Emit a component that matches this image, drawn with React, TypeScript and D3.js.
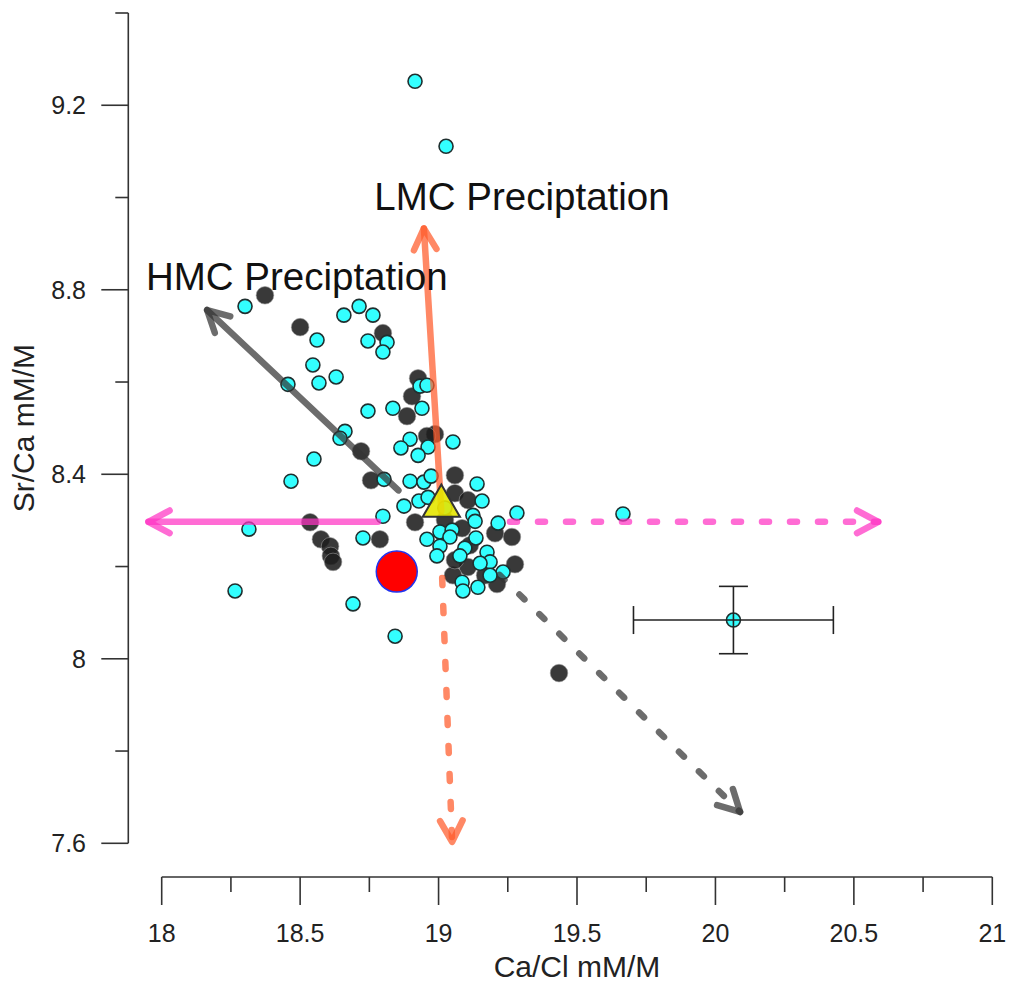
import React from "react";
import * as d3 from "d3";

// ---- Data ----
const cyanX = [18.915, 19.027, 18.301, 18.561, 18.658, 18.713, 18.763, 18.745, 18.814, 18.799, 18.546, 18.568, 18.63, 18.456, 18.933, 18.958, 18.745, 18.835, 18.94, 18.662, 18.644, 18.897, 18.864, 18.962, 18.926, 19.052, 18.55, 18.467, 18.803, 18.897, 18.947, 18.973, 19.139, 19.157, 18.875, 18.929, 18.962, 18.799, 18.727, 18.958, 19.005, 19.049, 19.041, 19.005, 18.994, 19.135, 19.124, 19.132, 19.215, 19.283, 19.175, 19.186, 19.095, 19.077, 19.15, 19.233, 19.186, 19.085, 19.088, 19.142, 18.691, 18.843, 18.315, 18.265, 19.666, 19.023];
const cyanY = [9.252, 9.111, 8.764, 8.691, 8.745, 8.764, 8.745, 8.689, 8.686, 8.665, 8.637, 8.598, 8.611, 8.595, 8.591, 8.593, 8.537, 8.543, 8.543, 8.493, 8.478, 8.476, 8.457, 8.459, 8.441, 8.47, 8.433, 8.385, 8.389, 8.385, 8.383, 8.396, 8.379, 8.342, 8.331, 8.342, 8.35, 8.309, 8.262, 8.259, 8.275, 8.279, 8.264, 8.244, 8.223, 8.262, 8.311, 8.298, 8.294, 8.316, 8.231, 8.21, 8.24, 8.223, 8.207, 8.188, 8.181, 8.166, 8.147, 8.155, 8.119, 8.049, 8.281, 8.147, 8.314, 8.327];

const blackX = [18.373, 18.5, 18.799, 18.926, 18.904, 18.886, 18.987, 18.958, 18.72, 18.756, 19.059, 19.059, 19.106, 18.536, 18.575, 18.608, 18.611, 18.619, 18.788, 18.915, 19.204, 19.265, 19.276, 19.211, 19.106, 19.052, 19.435, 19.023, 19.085, 19.113, 19.168, 19.059];
const blackY = [8.788, 8.719, 8.706, 8.608, 8.569, 8.526, 8.487, 8.483, 8.45, 8.387, 8.398, 8.359, 8.344, 8.296, 8.259, 8.244, 8.223, 8.21, 8.259, 8.296, 8.272, 8.264, 8.205, 8.162, 8.199, 8.181, 7.969, 8.301, 8.283, 8.246, 8.181, 8.214];

const errPoint = { x: 20.065, y: 8.084, xerr: 0.361, yerr: 0.073 };
const seawater = { x: 18.849, y: 8.189 }; // red circle
const startPoint = { x: 19.01, y: 8.331 }; // yellow triangle

const arrowNames = ["hmcSolid", "hmcDashed", "lmcSolid", "lmcDashed", "pinkSolid", "pinkDashed"];
const arrowX0 = [18.855, 19.22, 19.01, 19.013, 18.781, 19.258];
const arrowY0 = [8.365, 8.182, 8.32, 8.175, 8.297, 8.297];
const arrowX1 = [18.164, 20.089, 18.947, 19.049, 17.952, 20.588];
const arrowY1 = [8.756, 7.668, 8.933, 7.603, 8.297, 8.297];
const arrowKind = ["gray", "gray", "orange", "orange", "pink", "pink"];
const arrowDashed = [false, true, false, true, false, true];

const xMajor = [18, 18.5, 19, 19.5, 20, 20.5, 21];
const xMinor = [18.25, 18.75, 19.25, 19.75, 20.25, 20.75];
const yMajor = [7.6, 8, 8.4, 8.8, 9.2];
const yMinor = [7.8, 8.2, 8.6, 9.0, 9.4];

const labels = [
  { text: "LMC Preciptation", x: 18.768, y: 8.973 },
  { text: "HMC Preciptation", x: 17.943, y: 8.8 },
];

const colors: Record<string, string> = {
  gray: "#333333",
  orange: "#ff5a2a",
  pink: "#ff33c4",
};

const FONT = "'Liberation Sans', Arial, Helvetica, sans-serif";

export default function App() {
  const W = 1013;
  const H = 993;
  const x = d3.scaleLinear().domain([18, 21]).range([161.7, 992.3]);
  const y = d3.scaleLinear().domain([7.6, 9.4]).range([843.3, 13]);
  const axisY = 877;
  const axisX = 128.3;
  const axisColor = "#333";

  const arrowHead = (i: number) => {
    const px0 = x(arrowX0[i]);
    const py0 = y(arrowY0[i]);
    const px1 = x(arrowX1[i]);
    const py1 = y(arrowY1[i]);
    const ang = Math.atan2(py1 - py0, px1 - px0);
    const L = 24;
    const a = (28 * Math.PI) / 180;
    const p1 = [px1 - L * Math.cos(ang - a), py1 - L * Math.sin(ang - a)];
    const p2 = [px1 - L * Math.cos(ang + a), py1 - L * Math.sin(ang + a)];
    return `M${p1[0]},${p1[1]}L${px1},${py1}L${p2[0]},${p2[1]}`;
  };

  const tri = d3.symbol().type(d3.symbolTriangle).size(600)();

  return (
    <svg
      width={W}
      height={H}
      style={{ position: "absolute", left: 0, top: 0, background: "#fff" }}
      fontFamily={FONT}
    >
      {/* Y axis */}
      <line x1={axisX} x2={axisX} y1={y(9.4)} y2={y(7.6)} stroke={axisColor} strokeWidth={1.6} />
      {yMajor.map((v) => (
        <g key={"ym" + v}>
          <line x1={axisX - 27} x2={axisX} y1={y(v)} y2={y(v)} stroke={axisColor} strokeWidth={1.6} />
          <text x={86} y={y(v)} dy="0.35em" textAnchor="end" fontSize={25} fill="#222">
            {d3.format("~g")(v)}
          </text>
        </g>
      ))}
      {yMinor.map((v) => (
        <line key={"yn" + v} x1={axisX - 13} x2={axisX} y1={y(v)} y2={y(v)} stroke={axisColor} strokeWidth={1.6} />
      ))}
      <text
        transform={`translate(34,${(y(7.6) + y(9.4)) / 2}) rotate(-90)`}
        textAnchor="middle"
        fontSize={30}
        fill="#222"
      >
        Sr/Ca mM/M
      </text>

      {/* X axis */}
      <line x1={x(18)} x2={x(21)} y1={axisY} y2={axisY} stroke={axisColor} strokeWidth={1.6} />
      {xMajor.map((v) => (
        <g key={"xm" + v}>
          <line x1={x(v)} x2={x(v)} y1={axisY} y2={axisY + 28} stroke={axisColor} strokeWidth={1.6} />
          <text x={x(v)} y={942} textAnchor="middle" fontSize={25} fill="#222">
            {d3.format("~g")(v)}
          </text>
        </g>
      ))}
      {xMinor.map((v) => (
        <line key={"xn" + v} x1={x(v)} x2={x(v)} y1={axisY} y2={axisY + 15} stroke={axisColor} strokeWidth={1.6} />
      ))}
      <text x={x(19.5)} y={977} textAnchor="middle" fontSize={30} fill="#222">
        Ca/Cl mM/M
      </text>

      {/* Black points */}
      {blackX.map((v, i) => (
        <circle
          key={"b" + i}
          cx={x(v)}
          cy={y(blackY[i])}
          r={8.8}
          fill="#1e1e1e"
          fillOpacity={0.88}
          stroke="#9a9a9a"
          strokeOpacity={0.6}
          strokeWidth={1}
        />
      ))}

      {/* Cyan points */}
      {cyanX.map((v, i) => (
        <circle
          key={"c" + i}
          cx={x(v)}
          cy={y(cyanY[i])}
          r={7}
          fill="#33ffff"
          stroke="#1f2f2f"
          strokeWidth={1.6}
        />
      ))}

      {/* Error bar point */}
      <g stroke="#222" strokeWidth={1.6}>
        <circle cx={x(errPoint.x)} cy={y(errPoint.y)} r={7} fill="#33ffff" stroke="#1f2f2f" />
        <line x1={x(errPoint.x - errPoint.xerr)} x2={x(errPoint.x + errPoint.xerr)} y1={y(errPoint.y)} y2={y(errPoint.y)} />
        <line x1={x(errPoint.x - errPoint.xerr)} x2={x(errPoint.x - errPoint.xerr)} y1={y(errPoint.y) - 14} y2={y(errPoint.y) + 14} />
        <line x1={x(errPoint.x + errPoint.xerr)} x2={x(errPoint.x + errPoint.xerr)} y1={y(errPoint.y) - 14} y2={y(errPoint.y) + 14} />
        <line x1={x(errPoint.x)} x2={x(errPoint.x)} y1={y(errPoint.y + errPoint.yerr)} y2={y(errPoint.y - errPoint.yerr)} />
        <line x1={x(errPoint.x) - 14.5} x2={x(errPoint.x) + 14.5} y1={y(errPoint.y + errPoint.yerr)} y2={y(errPoint.y + errPoint.yerr)} />
        <line x1={x(errPoint.x) - 14.5} x2={x(errPoint.x) + 14.5} y1={y(errPoint.y - errPoint.yerr)} y2={y(errPoint.y - errPoint.yerr)} />
      </g>

      {/* Arrows */}
      {arrowNames.map((n, i) => (
        <g key={n} stroke={colors[arrowKind[i]]} strokeOpacity={0.72} strokeWidth={6.5} fill="none" strokeLinecap="round" strokeLinejoin="round">
          <line
            x1={x(arrowX0[i])}
            y1={y(arrowY0[i])}
            x2={x(arrowX1[i])}
            y2={y(arrowY1[i])}
            strokeDasharray={arrowDashed[i] ? "7 21" : undefined}
          />
          <path d={arrowHead(i)} />
        </g>
      ))}

      {/* Red circle */}
      <circle cx={x(seawater.x)} cy={y(seawater.y)} r={20.5} fill="#ff0000" stroke="#2233ee" strokeWidth={1.5} />

      {/* Yellow triangle */}
      <path
        d={tri || ""}
        transform={`translate(${x(startPoint.x)},${y(startPoint.y)})`}
        fill="#e6e600"
        fillOpacity={0.9}
        stroke="#333"
        strokeWidth={2}
      />

      {/* Labels */}
      {labels.map((l) => (
        <text key={l.text} x={x(l.x)} y={y(l.y)} fontSize={38.5} fill="#111">
          {l.text}
        </text>
      ))}
    </svg>
  );
}
